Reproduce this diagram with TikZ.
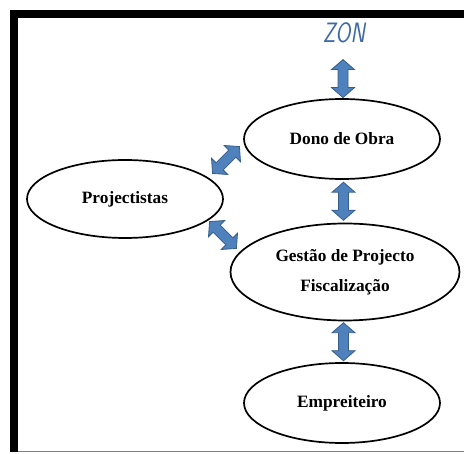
\documentclass[tikz,border=0pt]{standalone}
\usepackage{fontspec}
\setmainfont{Liberation Serif}
\usetikzlibrary{shapes.geometric,calc}
\definecolor{arrowfill}{RGB}{79,129,189}
\definecolor{arrowline}{RGB}{56,93,138}
\definecolor{zonblue}{RGB}{62,105,168}
\begin{document}
\begin{tikzpicture}[x=1pt,y=-1pt,
  actor/.style={ellipse,draw=black,line width=1.7pt,fill=white,inner sep=0pt,
    font=\fontsize{17.3}{30}\selectfont\bfseries,align=center},
  linkarrow/.pic={\draw[draw=arrowline,fill=arrowfill,line width=0.8pt,line join=miter]
    (-19,0) -- (-9,-11.5) -- (-9,-5) -- (9,-5) -- (9,-11.5) -- (19,0)
    -- (9,11.5) -- (9,5) -- (-9,5) -- (-9,11.5) -- cycle;}]
\useasboundingbox (0,0) rectangle (464,454);
% frame
\fill[black] (10,10) rectangle (464,18.5);
\fill[black] (10,10) rectangle (17.5,452);
\draw[gray,line width=1pt] (17.5,452) -- (464,452);
% nodes
\node[actor,minimum width=196pt,minimum height=80pt] (dono) at (342,139) {Dono de Obra};
\node[actor,minimum width=196pt,minimum height=78pt] (proj) at (125,199) {Projectistas};
\node[actor,minimum width=229pt,minimum height=97pt] (gest) at (345,272) {Gestão de Projecto\\Fiscalização};
\node[actor,minimum width=196pt,minimum height=80pt] (empr) at (342,403) {Empreiteiro};
\node[text=zonblue,font=\fontsize{28}{28}\sffamily\slshape,inner sep=0pt] (zon) at (344,33) {\scalebox{0.78}[1]{ZON}};
% connectors
\coordinate (zonA) at (344,59);
\pic[rotate=90] (a1) at ($(zonA)!0.5!(dono.north)$) {linkarrow};
\pic[rotate=90] (a2) at ($(dono.south)!0.5!(gest.north)$) {linkarrow};
\pic[rotate=90] (a3) at ($(gest.south)!0.5!(empr.north)$) {linkarrow};
\pic[rotate=45] (a4) at (226,160) {linkarrow};
\pic[rotate=-45] (a5) at (223,235) {linkarrow};
\end{tikzpicture}
\end{document}
